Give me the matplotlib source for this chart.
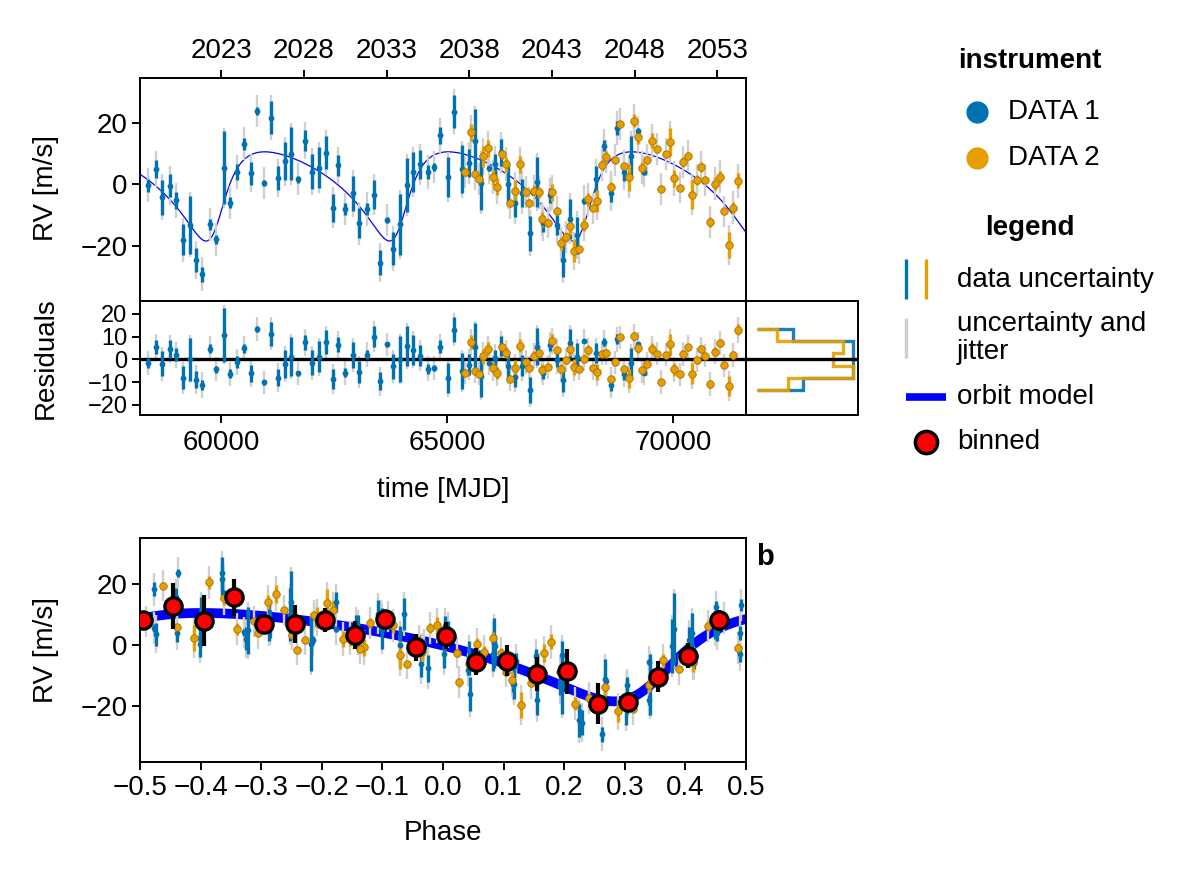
import numpy as np
import matplotlib
matplotlib.use("Agg")
import matplotlib.pyplot as plt

plt.rcParams['font.family'] = ['Liberation Sans', 'DejaVu Sans']
plt.rcParams['axes.unicode_minus'] = True

# ---------------- data ----------------
d1_mjd = [58390, 58554, 58693, 58870, 59010, 59152, 59313, 59440, 59586, 59750,
          59896, 60066, 60199, 60354, 60516, 60657, 60804, 60952, 61101, 61256,
          61411, 61551, 61706, 61861, 62009, 62171, 62319, 62481, 62592, 62747,
          62917, 63057, 63219, 63374, 63507, 63670, 63803, 63965, 64113, 64246,
          64401, 64570, 64702, 64851, 65013, 65161, 65332, 65478, 65620, 65752,
          65921, 66054, 66202, 66350, 66490, 66645, 66822, 66984, 67110, 67265,
          67420, 67553, 67724, 67870, 68018, 68285, 68468, 68632, 68765, 68920,
          69075, 69230, 69363]
d1_rv = [-0.3, 4.9, -4.3, -0.5, -5.3, -18.1, -13.2, -24.7, -29.3, -13.1,
         -18.0, 5.3, -6.0, 3.9, 13.1, 3.5, 23.7, 0.4, 21.6, 2.0,
         7.5, 9.9, 1.6, 14.1, 4.1, 5.4, 10.2, -7.7, 6.1, -8.1,
         -3.0, -12.7, -8.1, -3.4, -25.5, -11.7, -21.0, -13.1, -0.3, 4.0,
         6.4, 3.9, 5.6, 15.9, 2.4, 23.5, 4.8, 6.9, 14.1, 0.4,
         5.1, 6.4, 10.3, 0.0, -6.3, -3.0, -16.0, 0.7, -12.8, -3.6,
         -13.3, -24.7, -11.2, -16.6, -5.5, 1.7, 12.5, -3.0, 18.3, 4.0,
         9.1, 17.2, 4.1]
d1_err = [2.1, 2.9, 5.6, 3.8, 2.7, 5.0, 9.4, 3.8, 2.4, 1.8,
          1.6, 11.9, 1.9, 2.6, 2.0, 3.7, 1.3, 1.1, 5.3, 3.8,
          6.2, 8.7, 1.2, 3.4, 5.6, 6.7, 5.3, 4.5, 3.3, 1.9,
          5.7, 4.9, 2.0, 4.6, 4.0, 0.9, 5.4, 10.0, 8.8, 6.5,
          4.6, 2.3, 1.3, 2.7, 6.5, 5.4, 7.8, 4.6, 10.3, 8.9,
          0.9, 3.3, 4.3, 6.2, 4.3, 4.6, 5.6, 8.1, 2.7, 2.4,
          3.2, 5.4, 6.5, 6.0, 1.0, 4.3, 1.8, 2.7, 2.2, 2.9,
          6.5, 1.0, 1.0]

d2_mjd = [65398, 65522, 65626, 65715, 65797, 65899, 66018, 66107, 66224, 66306,
          66401, 66497, 66601, 66734, 66815, 66917, 67028, 67103, 67227, 67316,
          67420, 67524, 67620, 67724, 67812, 67915, 68018, 68114, 68218, 68313,
          68417, 68521, 68616, 68712, 68822, 68920, 69031, 69133, 69230, 69319,
          69430, 69525, 69636, 69724, 69835, 69924, 70027, 70145, 70211, 70329,
          70411, 70537, 70610, 70714, 70809, 70927, 71031, 71120, 71224, 71313,
          71423]
d2_rv = [3.9, 16.8, 3.3, 1.7, 9.0, 11.6, 2.2, -0.8, 9.7, 6.4,
         -6.2, -2.3, 6.4, -2.5, -6.1, -2.2, -2.7, -11.4, -12.5, -2.7,
         -8.8, -19.3, -17.3, -13.7, -21.7, -21.0, -13.2, -5.0, -7.9, -5.5,
         6.2, 8.9, -0.9, 7.8, 19.5, 5.9, 2.2, 20.6, 15.4, 5.3,
         7.8, 14.1, 11.4, -1.6, 9.8, 13.8, 1.9, -1.2, 7.3, 9.3,
         -3.4, 1.3, 5.6, 1.3, -12.3, 0.2, 2.4, -8.8, -19.8, -7.7,
         1.1]
d2_err = [1.1, 2.9, 0.9, 1.0, 3.3, 2.7, 2.4, 2.7, 1.5, 2.4,
          0.9, 3.5, 2.9, 1.3, 1.0, 1.8, 1.8, 2.4, 1.0, 2.9,
          1.0, 2.1, 1.6, 2.9, 3.5, 1.0, 2.1, 2.1, 1.0, 3.5,
          1.6, 1.9, 1.6, 1.0, 1.0, 1.0, 4.3, 2.1, 2.4, 1.9,
          1.0, 2.4, 1.0, 1.0, 1.0, 4.6, 2.7, 1.0, 1.6, 1.0,
          4.6, 1.6, 1.6, 1.0, 1.6, 2.1, 1.9, 1.0, 4.3, 1.9,
          2.4]

jitter1 = 5.0
jitter2 = 5.0

# orbit model parameters
P_days = 4060.0
K_amp = 14.5
ecc = 0.39
omega_deg = 225.0
t_peri = 59882.0
phase_ref = 58519.0

# binned phase-folded points
bin_phase = [-0.495, -0.445, -0.395, -0.345, -0.295, -0.245, -0.195, -0.145, -0.095, -0.045,
             0.005, 0.055, 0.105, 0.155, 0.205, 0.255, 0.305, 0.355, 0.405, 0.455]
bin_rv = [8.2, 12.9, 8.0, 15.6, 6.9, 7.0, 8.1, 3.3, 8.5, -0.8,
          3.1, -5.5, -5.2, -9.5, -8.7, -19.3, -18.6, -10.4, -3.5, 8.1]
bin_err = [3.0, 7.5, 8.4, 6.2, 3.0, 6.2, 4.0, 4.7, 2.8, 4.3,
           4.5, 4.4, 5.1, 5.7, 7.3, 6.7, 3.3, 5.1, 4.1, 3.5]

year_ticks = [2023, 2028, 2033, 2038, 2043, 2048, 2053]
mjd_ticks = [60000, 65000, 70000]
phase_ticks = [-0.5, -0.4, -0.3, -0.2, -0.1, 0.0, 0.1, 0.2, 0.3, 0.4, 0.5]
rv_ticks = [-20, 0, 20]
res_ticks = [-20, -10, 0, 10, 20]

C1 = '#0072B2'
C2 = '#E69F00'
CG = '#cfcfcf'
FS = 20


def rv_model(t):
    t = np.asarray(t, dtype=float)
    M = 2 * np.pi * (t - t_peri) / P_days
    E = M.copy()
    for _ in range(60):
        E = E - (E - ecc * np.sin(E) - M) / (1 - ecc * np.cos(E))
    nu = 2 * np.arctan2(np.sqrt(1 + ecc) * np.sin(E / 2), np.sqrt(1 - ecc) * np.cos(E / 2))
    w = np.deg2rad(omega_deg)
    return K_amp * (np.cos(nu + w) + ecc * np.cos(w))


def to_phase(t):
    t = np.asarray(t, dtype=float)
    return ((t - phase_ref) / P_days + 0.5) % 1.0 - 0.5


MJD0, YR0, DPY = 60000.0, 2023.0, 366.0


def mjd2yr(m):
    return YR0 + (np.asarray(m) - MJD0) / DPY


def yr2mjd(y):
    return MJD0 + (np.asarray(y) - YR0) * DPY


inst = [
    (np.array(d1_mjd, float), np.array(d1_rv), np.array(d1_err), jitter1, C1, dict(ms=4.2, mec=C1, mew=0)),
    (np.array(d2_mjd, float), np.array(d2_rv), np.array(d2_err), jitter2, C2, dict(ms=5.4, mec='#a87000', mew=0.6)),
]


def draw_points(ax, x, y, err, jit, col, mk):
    tot = np.sqrt(err ** 2 + jit ** 2)
    ax.vlines(x, y - tot, y + tot, color=CG, lw=1.7, zorder=3)
    ax.vlines(x, y - err, y + err, color=col, lw=2.4, zorder=4)
    ax.plot(x, y, 'o', color=col, zorder=5, ls='none', **mk)


fig = plt.figure(figsize=(12, 8.8), dpi=100)
W, H = 1200.0, 880.0


def rect(l, t, r, b):
    return [l / W, 1 - b / H, (r - l) / W, (b - t) / H]


ax_top = fig.add_axes(rect(140, 77.7, 746, 301))
ax_res = fig.add_axes(rect(140, 301, 746, 415), sharex=ax_top)
ax_hist = fig.add_axes(rect(746, 301, 858, 415), sharey=ax_res)
ax_ph = fig.add_axes(rect(140, 537.7, 746, 762.3))

xlo, xhi = 58205, 71611

# --- top panel ---
tt = np.linspace(xlo, xhi, 2000)
ax_top.plot(tt, rv_model(tt), color='blue', lw=0.9, zorder=2)
for x, y, e, j, c, mk in inst:
    draw_points(ax_top, x, y, e, j, c, mk)
ax_top.set_xlim(xlo, xhi)
ax_top.set_ylim(-38.0, 34.6)
ax_top.set_yticks(rv_ticks)
ax_top.tick_params(axis='x', bottom=False, labelbottom=False)
sec = ax_top.secondary_xaxis('top', functions=(mjd2yr, yr2mjd))
sec.set_xticks(year_ticks)
sec.set_xticklabels([str(v) for v in year_ticks])
sec.tick_params(direction='out', length=6, width=1.4, labelsize=FS, pad=4)
sec.spines['top'].set_linewidth(1.4)

# --- residuals ---
allres = []
for x, y, e, j, c, mk in inst:
    r = y - rv_model(x)
    allres.append(r)
    draw_points(ax_res, x, r, e, j, c, mk)
ax_res.axhline(0, color='black', lw=2.4, zorder=3.5)
ax_res.set_ylim(-24.4, 25.7)
ax_res.set_yticks(res_ticks)
ax_res.set_xticks(mjd_ticks)
ax_res.set_xticklabels([str(v) for v in mjd_ticks])

# --- histogram ---
edges = np.histogram_bin_edges(np.concatenate(allres), bins=5)
cmax = 0
for r, (x, y, e, j, c, mk) in zip(allres, inst):
    cnt, _ = np.histogram(r, bins=edges)
    cmax = max(cmax, cnt.max())
    ax_hist.stairs(cnt, edges, orientation='horizontal', baseline=0, color=c, lw=2.4,
                   alpha=0.9, zorder=3 if c == C1 else 4)
ax_hist.axhline(0, color='black', lw=2.4, zorder=5)
ax_hist.set_xlim(-0.118 * cmax, 1.052 * cmax)

# --- phase panel ---
pp = np.linspace(-0.5, 0.5, 1000)
ax_ph.plot(pp, rv_model(phase_ref + pp * P_days), color='blue', lw=7, zorder=2,
           solid_capstyle='butt')
for x, y, e, j, c, mk in inst:
    draw_points(ax_ph, to_phase(x), y, e, j, c, mk)
ax_ph.errorbar(bin_phase, bin_rv, yerr=bin_err, fmt='o', color='black', ecolor='black',
               elinewidth=3.0, capsize=0, ms=12.5, mfc='red', mec='black', mew=2.3, zorder=7)
ax_ph.set_xlim(-0.5, 0.5)
ax_ph.set_ylim(-38.5, 35.2)
ax_ph.set_xticks(phase_ticks)
ax_ph.set_yticks(rv_ticks)

for ax in (ax_top, ax_res, ax_hist, ax_ph):
    for s in ax.spines.values():
        s.set_linewidth(1.4)
    ax.tick_params(direction='out', length=6, width=1.4, labelsize=FS, pad=3)
ax_res.tick_params(axis='y', labelsize=17)
ax_res.tick_params(axis='x', pad=5)
ax_hist.tick_params(left=False, labelleft=False, bottom=False, labelbottom=False)

# axis labels
fig.text(46 / W, 1 - 188 / H, 'RV [m/s]', rotation=90, ha='center', va='center', fontsize=FS)
fig.text(46 / W, 1 - 358 / H, 'Residuals', rotation=90, ha='center', va='center', fontsize=FS)
fig.text(46 / W, 1 - 650 / H, 'RV [m/s]', rotation=90, ha='center', va='center', fontsize=FS)
fig.text(443 / W, 1 - 490 / H, 'time [MJD]', ha='center', va='center', fontsize=FS)
fig.text(443 / W, 1 - 833 / H, 'Phase', ha='center', va='center', fontsize=FS)
fig.text(765 / W, 1 - 557 / H, 'b', ha='center', va='center', fontsize=FS + 1, fontweight='bold')

# --- legend drawn on an overlay in pixel coordinates ---
lax = fig.add_axes([0, 0, 1, 1], zorder=-1)
lax.set_xlim(0, W)
lax.set_ylim(H, 0)
lax.axis('off')
lax.text(1030, 61, 'instrument', ha='center', va='center', fontsize=FS, fontweight='bold')
lax.plot([977], [112], 'o', color=C1, ms=15)
lax.plot([977], [158], 'o', color=C2, ms=15)
lax.text(1008, 112, 'DATA 1', ha='left', va='center', fontsize=FS)
lax.text(1008, 158, 'DATA 2', ha='left', va='center', fontsize=FS)
lax.text(1030, 228, 'legend', ha='center', va='center', fontsize=FS, fontweight='bold')
lax.plot([906, 906], [259, 299], color=C1, lw=2.4, solid_capstyle='butt')
lax.plot([926, 926], [259, 299], color=C2, lw=2.4, solid_capstyle='butt')
lax.text(957, 280, 'data uncertainty', ha='left', va='center', fontsize=FS)
lax.plot([906, 906], [318, 358], color=CG, lw=2.4, solid_capstyle='butt')
lax.text(957, 338, 'uncertainty and\njitter', ha='left', va='center', fontsize=FS, linespacing=1.1)
lax.plot([906, 946], [397, 397], color='blue', lw=5.5, solid_capstyle='butt')
lax.text(957, 397, 'orbit model', ha='left', va='center', fontsize=FS)
lax.plot([926], [442], 'o', mfc='red', mec='black', mew=2.5, ms=16)
lax.text(957, 442, 'binned', ha='left', va='center', fontsize=FS)

fig.savefig('out.png', dpi=100)
